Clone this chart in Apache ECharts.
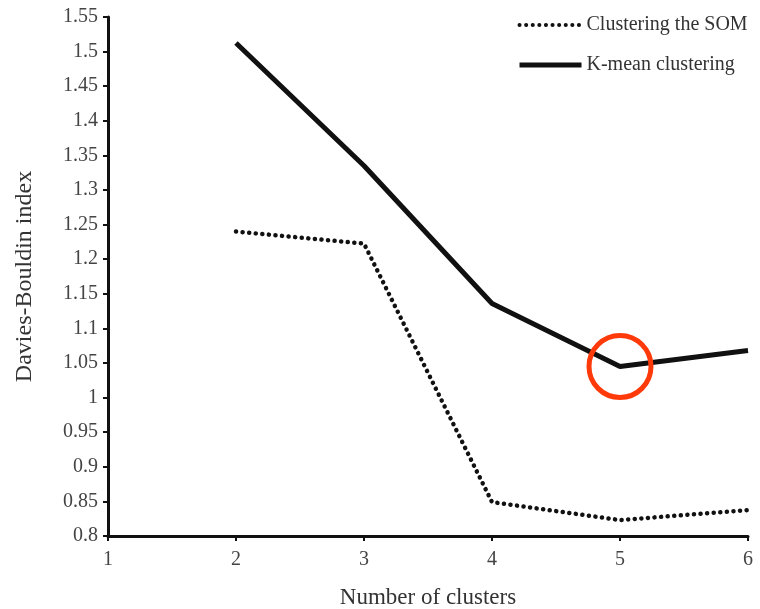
<!DOCTYPE html>
<html>
<head>
<meta charset="utf-8">
<script src="https://cdn.jsdelivr.net/npm/echarts@6/dist/echarts.min.js"></script>
<style>html,body{margin:0;padding:0;background:#fff}#c{width:760px;height:609px}</style>
</head>
<body>
<div id="c"></div>
<script>
const clusters = [2, 3, 4, 5, 6];
const somValues = [1.24, 1.2225, 0.849, 0.823, 0.8375];
const kmeanValues = [1.5125, 1.335, 1.136, 1.045, 1.068];
const highlightX = 5;
const highlightY = 1.045;

const font = 'Liberation Serif';
const chart = echarts.init(document.getElementById('c'));
chart.setOption({
  animation: false,
  backgroundColor: '#fff',
  grid: { left: 108, right: 12, top: 17, bottom: 73, outerBoundsMode: 'none', containLabel: false },
  legend: {
    left: 512, top: 10, orient: 'vertical', itemWidth: 62, itemHeight: 14, itemGap: 20,
    textStyle: { fontFamily: font, fontSize: 20, color: '#333' },
    itemStyle: { opacity: 0 },
    data: [
      { name: 'Clustering the SOM', lineStyle: { width: 4, type: [0.1, 6.5], cap: 'round' } },
      { name: 'K-mean clustering', lineStyle: { width: 5 } }
    ]
  },
  xAxis: {
    type: 'value', min: 1, max: 6, interval: 1,
    name: 'Number of clusters', nameLocation: 'middle', nameGap: 50,
    nameTextStyle: { fontFamily: font, fontSize: 23, color: '#333' },
    axisLine: { onZero: false, lineStyle: { color: '#111', width: 3 } },
    axisTick: { show: true, length: 5, lineStyle: { color: '#111', width: 2 } },
    axisLabel: { fontFamily: font, fontSize: 20, color: '#444', margin: 14 },
    splitLine: { show: false }
  },
  yAxis: {
    type: 'value', min: 0.8, max: 1.55, interval: 0.05,
    name: 'Davies-Bouldin index', nameLocation: 'middle', nameGap: 71,
    nameTextStyle: { fontFamily: font, fontSize: 24, color: '#333' },
    axisLine: { show: true, lineStyle: { color: '#111', width: 3 } },
    axisTick: { show: true, length: 5, lineStyle: { color: '#111', width: 2 } },
    axisLabel: {
      fontFamily: font, fontSize: 20, color: '#444', margin: 10,
      formatter: v => String(parseFloat(v.toFixed(2)))
    },
    splitLine: { show: false }
  },
  series: [
    {
      name: 'Clustering the SOM', type: 'line', showSymbol: false, symbol: 'none',
      data: clusters.map((c, i) => [c, somValues[i]]),
      lineStyle: { color: '#111', width: 4.5, type: [0.1, 6.5], cap: 'round' },
      itemStyle: { color: '#111' }
    },
    {
      name: 'K-mean clustering', type: 'line', showSymbol: false, symbol: 'none',
      data: clusters.map((c, i) => [c, kmeanValues[i]]),
      lineStyle: { color: '#111', width: 5 },
      itemStyle: { color: '#111' },
      markPoint: {
        symbol: 'circle', symbolSize: 62, silent: true,
        label: { show: false },
        itemStyle: { color: 'rgba(0,0,0,0)', borderColor: '#ff3a0a', borderWidth: 5 },
        data: [{ coord: [highlightX, highlightY] }]
      }
    }
  ]
});
</script>
</body>
</html>
